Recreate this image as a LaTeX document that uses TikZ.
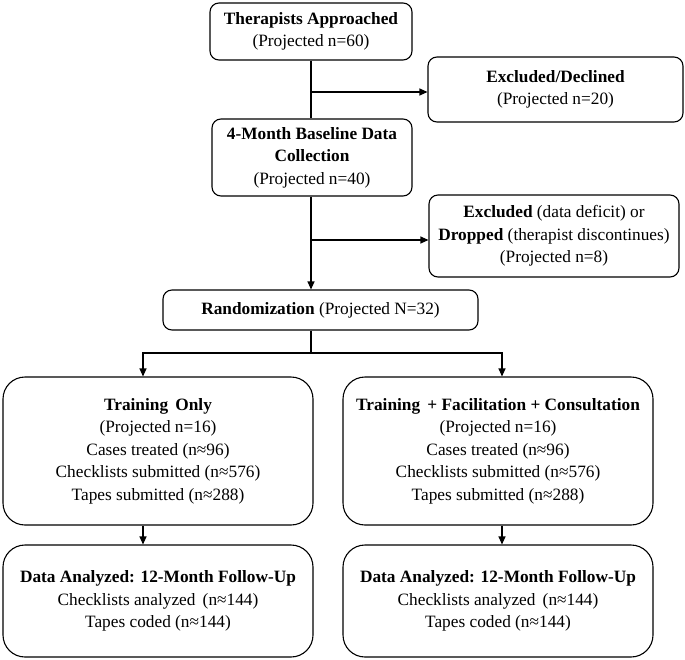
\documentclass[tikz,border=0pt]{standalone}
\usepackage{fontspec}
\setmainfont{Liberation Serif}
\usetikzlibrary{positioning, arrows.meta}

\begin{document}
\begin{tikzpicture}[x=1pt, y=-1pt,
     >={Triangle[length=8pt,width=7pt]},
     every path/.style = {line width=1.1pt},
      flowbox/.style = {rectangle, draw, rounded corners=9pt, align=center,
                        inner sep=2pt, font=\fontsize{17.3}{22.5}\selectfont},
       armbox/.style = {flowbox, rounded corners=22pt, minimum width=310pt}
                    ]
\useasboundingbox (0,0) rectangle (685,659);
% top column
\node (appr)  [flowbox, minimum width=202pt, minimum height=57pt] at (311,31.5)
      {\textbf{Therapists Approached}\\(Projected n=60)};
\node (decl)  [flowbox, minimum width=255pt, minimum height=65pt] at (555.5,89.5)
      {\textbf{Excluded/Declined}\\(Projected n=20)};
\node (base)  [flowbox, minimum width=200pt, minimum height=77pt] at (312,157.5)
      {\textbf{4-Month Baseline Data}\\\textbf{Collection}\\(Projected n=40)};
\node (drop)  [flowbox, minimum width=250pt, minimum height=82pt] at (554,236)
      {\textbf{Excluded} (data deficit) or\\\textbf{Dropped} (therapist discontinues)\\(Projected n=8)};
\node (rand)  [flowbox, minimum width=315pt, minimum height=40pt] at (320.5,310)
      {\textbf{Randomization} (Projected N=32)};
% two arms
\node (train) [armbox, minimum height=148pt] at (158,451)
      {\textbf{Training\, Only}\\(Projected n=16)\\Cases treated (n≈96)\\Checklists submitted (n≈576)\\Tapes submitted (n≈288)};
\node (tfc)   [armbox, minimum height=148pt] at (498,451)
      {\textbf{Training\, + Facilitation + Consultation}\\(Projected n=16)\\Cases treated (n≈96)\\Checklists submitted (n≈576)\\Tapes submitted (n≈288)};
\node (fuA)   [armbox, minimum height=112pt] at (158,601)
      {\textbf{Data Analyzed: 12-Month Follow-Up}\\Checklists analyzed\, (n≈144)\\Tapes coded (n≈144)};
\node (fuB)   [armbox, minimum height=112pt] at (498,601)
      {\textbf{Data Analyzed: 12-Month Follow-Up}\\Checklists analyzed\, (n≈144)\\Tapes coded (n≈144)};

\coordinate (spine) at (311,0);
\coordinate (tapA)  at (311,92);
\coordinate (tapB)  at (311,240);
\coordinate (split) at (311,353);
\coordinate (lx)    at (143,0);
\coordinate (rx)    at (502,0);

\draw (appr.south) -- (spine |- base.north);
\draw[->] (tapA) -- (decl.west |- tapA);
\draw[->] (spine |- base.south) -- (spine |- rand.north);
\draw[->] (tapB) -- (drop.west |- tapB);
\draw (spine |- rand.south) -- (split);
\draw[->] (split) -| (lx |- train.north);
\draw[->] (split) -| (rx |- tfc.north);
\draw[->] (lx |- train.south) -- (lx |- fuA.north);
\draw[->] (rx |- tfc.south) -- (rx |- fuB.north);
\end{tikzpicture}
\end{document}
